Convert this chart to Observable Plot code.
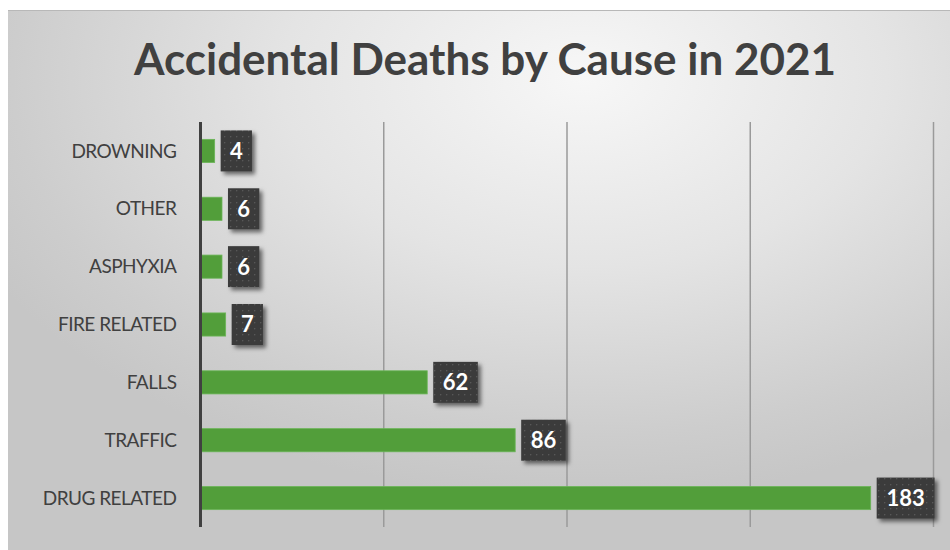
<!DOCTYPE html>
<html><head><meta charset="utf-8">
<script src="https://cdn.jsdelivr.net/npm/d3@7"></script>
<script src="https://cdn.jsdelivr.net/npm/@observablehq/plot@0.6"></script>
<style>
html,body{margin:0;padding:0;background:#fff;}
#wrap{position:relative;width:950px;height:550px;overflow:hidden;}
#bg{position:absolute;left:8px;top:10px;width:960px;height:560px;
 background:radial-gradient(ellipse 70% 75% at 60% 12%, #f7f7f7 0%, #e4e4e4 45%, #cdcdcd 85%, #c6c6c6 100%);
 border-top:1px solid #b8b8b8;}
#title{position:absolute;left:8px;top:28px;width:954px;text-align:center;font-family:Lato,sans-serif;font-weight:700;font-size:44px;color:#404040;line-height:60px;}
#chart{position:absolute;left:0;top:110px;}
#chart g[aria-label="y-axis tick label"] text{letter-spacing:-0.5px;}
</style></head>
<body>
<div id="wrap"><div id="bg"></div><div id="title">Accidental Deaths by Cause in 2021</div><div id="chart"></div></div>
<script>
const causes = ["DROWNING","OTHER","ASPHYXIA","FIRE RELATED","FALLS","TRAFFIC","DRUG RELATED"];
const deaths = [4, 6, 6, 7, 62, 86, 183];
const gridTicks = [50, 100, 150, 200];

const data = causes.map((c, i) => ({cause: c, value: deaths[i]}));
const boxW = v => 18 + 13.3 * String(v).length;

const boxLabels = Plot.text(data, {
  x: "value", y: "cause", text: d => String(d.value),
  textAnchor: "middle", fill: "white", fontWeight: 700, fontSize: 22,
  render(index, scales, values, dims, context, next) {
    const g = next(index, scales, values, dims, context);
    const svgNS = "http://www.w3.org/2000/svg";
    const yScale = scales.scales && scales.scales.y;
    const bw = (yScale && yScale.bandwidth) || (typeof scales.y.bandwidth === "function" ? scales.y.bandwidth() : 0);
    const boxes = document.createElementNS(svgNS, "g");
    const texts = g.querySelectorAll("text");
    let k = 0;
    for (const i of index) {
      const d = data[i];
      const x = scales.x(d.value) + 6;
      const cy = scales.y(d.cause) + bw / 2;
      const w = boxW(d.value);
      const r = document.createElementNS(svgNS, "rect");
      r.setAttribute("x", x); r.setAttribute("y", cy - 20.5);
      r.setAttribute("width", w); r.setAttribute("height", 41);
      r.setAttribute("fill", "url(#dots)");
      r.setAttribute("filter", "url(#shadow)");
      boxes.appendChild(r);
      const t = texts[k++];
      if (t) {
        t.setAttribute("x", x + w / 2);
        t.setAttribute("y", cy);
        t.setAttribute("dy", "0.36em");
        t.removeAttribute("transform");
      }
    }
    g.removeAttribute("transform");
    const outer = document.createElementNS(svgNS, "g");
    outer.appendChild(boxes);
    outer.appendChild(g);
    return outer;
  }
});

const chart = Plot.plot({
  width: 950,
  height: 440,
  marginTop: 12,
  marginBottom: 23,
  marginLeft: 200,
  marginRight: 17,
  style: {background: "transparent", fontFamily: "Lato, sans-serif", overflow: "visible"},
  x: {domain: [0, 200], axis: null},
  y: {domain: causes, paddingInner: 0.6, paddingOuter: 0.3, round: false, label: null, axis: null},
  marks: [
    Plot.ruleX(gridTicks, {stroke: "#9a9a9a", strokeWidth: 1.5}),
    Plot.barX(data, {x: "value", y: "cause", fill: "#529e3a", stroke: "#6ab556", strokeWidth: 0.8}),
    Plot.ruleX([0], {stroke: "#404040", strokeWidth: 3}),
    Plot.axisY({tickSize: 0, tickPadding: 24, fontSize: 19, color: "#404040", label: null}),
    boxLabels
  ]
});
const svgNS = "http://www.w3.org/2000/svg";
const defs = document.createElementNS(svgNS, "defs");
defs.innerHTML = `
<pattern id="dots" width="6" height="6" patternUnits="userSpaceOnUse">
  <rect width="6" height="6" fill="#3b3b3b"/>
  <rect x="2" y="2" width="1.3" height="1.3" fill="#595959"/>
</pattern>
<filter id="shadow" x="-30%" y="-30%" width="170%" height="170%">
  <feDropShadow dx="3" dy="3" stdDeviation="2.2" flood-color="#000" flood-opacity="0.55"/>
</filter>`;
chart.insertBefore(defs, chart.firstChild);
document.getElementById("chart").appendChild(chart);
</script>
</body></html>
